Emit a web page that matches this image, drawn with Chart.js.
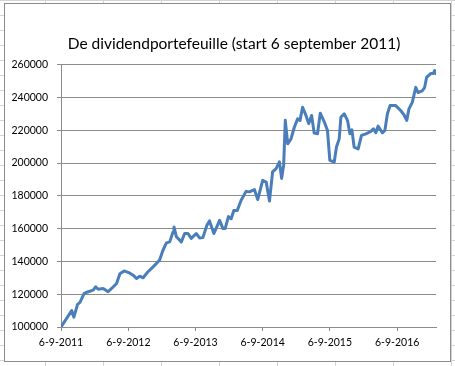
<!DOCTYPE html>
<html>
<head>
<meta charset="utf-8">
<script src="https://cdn.jsdelivr.net/npm/chart.js@4.4.1/dist/chart.umd.min.js"></script>
<style>
  html, body { margin: 0; padding: 0; }
  body {
    width: 455px; height: 366px; overflow: hidden; position: relative;
    background-color: #fff;
    background-image:
      linear-gradient(to right, #d4d4d4 1px, transparent 1px),
      linear-gradient(to bottom, #d4d4d4 1px, transparent 1px);
    background-size: 58px 15px, 58px 15px;
    background-position: 45px 0, 0 0;
  }
  #frame {
    position: absolute; left: 4px; top: 3px;
    width: 445px; height: 357px;
    border: 1px solid #8c8c8c; background: #fff;
  }
  canvas { display: block; }
</style>
</head>
<body>
<div id="frame"><canvas id="portfolioChart" width="445" height="357"></canvas></div>
<script>
// Waarden (datum, waarde portefeuille)
const dates = [
  '2011-09-06', '2011-11-03', '2011-11-15', '2011-12-05', '2011-12-18', '2012-01-10', '2012-02-01', '2012-02-28',
  '2012-03-12', '2012-03-26', '2012-04-22', '2012-05-19', '2012-06-07', '2012-07-04', '2012-07-22', '2012-08-14',
  '2012-09-08', '2012-10-02', '2012-10-20', '2012-11-07', '2012-11-25', '2012-12-22', '2013-01-10', '2013-02-06',
  '2013-02-23', '2013-03-13', '2013-04-01', '2013-04-19', '2013-05-07', '2013-05-12', '2013-05-25', '2013-06-21',
  '2013-07-09', '2013-07-27', '2013-08-14', '2013-09-01', '2013-09-10', '2013-09-28', '2013-10-16', '2013-11-07',
  '2013-11-21', '2013-12-15', '2014-01-15', '2014-02-02', '2014-02-14', '2014-03-04', '2014-03-19', '2014-04-02',
  '2014-04-21', '2014-05-12', '2014-06-08', '2014-06-26', '2014-07-23', '2014-08-10', '2014-09-06', '2014-09-25',
  '2014-10-13', '2014-10-30', '2014-11-18', '2014-12-06', '2014-12-18', '2014-12-29', '2015-01-07', '2015-01-20',
  '2015-02-07', '2015-02-25', '2015-03-15', '2015-03-28', '2015-04-11', '2015-04-26', '2015-05-14', '2015-05-30',
  '2015-06-13', '2015-07-01', '2015-07-16', '2015-08-07', '2015-08-24', '2015-09-06', '2015-09-30', '2015-10-12',
  '2015-10-27', '2015-11-05', '2015-11-23', '2015-12-11', '2015-12-24', '2016-01-04', '2016-01-16', '2016-02-07',
  '2016-02-25', '2016-03-20', '2016-04-16', '2016-04-30', '2016-05-13', '2016-05-25', '2016-06-18', '2016-07-01',
  '2016-07-15', '2016-07-29', '2016-08-29', '2016-09-25', '2016-10-13', '2016-10-28', '2016-11-09', '2016-11-27',
  '2016-12-16', '2016-12-28', '2017-01-20', '2017-02-02', '2017-02-13', '2017-03-07', '2017-03-21', '2017-03-29',
  '2017-04-05'
];
const values = [
  100000, 110000, 106000, 113800, 115000, 120500, 121500, 122500,
  124500, 123000, 123500, 121500, 123500, 126500, 132500, 134200,
  133200, 131600, 129600, 131000, 130000, 133700, 135700, 138800,
  140800, 146800, 151300, 151900, 158000, 161000, 155000, 151900,
  157000, 157000, 154000, 156000, 157000, 154300, 154500, 162000,
  164700, 157000, 165000, 160000, 160000, 167300, 166000, 171000,
  171000, 177300, 182700, 182400, 183800, 177700, 189400, 188400,
  176800, 194600, 196600, 200700, 190600, 198700, 226000, 211700,
  214700, 221800, 226900, 226000, 234000, 230000, 224000, 229000,
  218200, 217800, 230400, 225000, 220000, 201600, 200600, 209700,
  214700, 227900, 230000, 226000, 217800, 220200, 209700, 208600,
  216800, 217800, 219200, 220800, 218400, 222500, 218400, 219800,
  230000, 235000, 235000, 232000, 229300, 226000, 233000, 237000,
  246100, 243000, 244000, 246000, 252200, 254500, 254500, 256400,
  254400
];
const xTickLabels = ['6-9-2011', '6-9-2012', '6-9-2013', '6-9-2014', '6-9-2015', '6-9-2016'];
const yTicks = [100000, 120000, 140000, 160000, 180000, 200000, 220000, 240000, 260000];

const DAY = 86400000;
const start = Date.parse(dates[0]);
const toDay = s => (Date.parse(s) - start) / DAY;
// '6-9-2012' -> dag-nummer sinds de start
const labelDay = l => {
  const p = l.split('-');
  return (Date.UTC(+p[2], +p[1] - 1, +p[0]) - start) / DAY;
};
const tickDays = xTickLabels.map(labelDay);
const points = dates.map((d, i) => ({ x: toDay(d), y: values[i] }));

const gray = '#8c8c8c';
const font = 'Lato';

// titel staat in Excel iets rechts van het midden
const shiftTitle = {
  id: 'shiftTitle',
  afterLayout(chart) {
    if (chart.titleBlock) chart.titleBlock.left += 27;
  }
};

new Chart(document.getElementById('portfolioChart'), {
  type: 'line',
  data: {
    datasets: [{
      data: points,
      borderColor: '#4a7ebb',
      borderWidth: 3,
      pointRadius: 0,
      tension: 0,
      borderJoinStyle: 'round',
      borderCapStyle: 'round'
    }]
  },
  plugins: [shiftTitle],
  options: {
    responsive: false,
    animation: false,
    layout: { padding: { left: 0, right: 14, top: 0, bottom: 0 } },
    plugins: {
      legend: { display: false },
      tooltip: { enabled: false },
      title: {
        display: true,
        text: 'De dividendportefeuille (start 6 september 2011)',
        color: '#000',
        font: { family: font, size: 15.5, weight: 'normal' },
        padding: { top: 31, bottom: 11 }
      }
    },
    scales: {
      x: {
        type: 'linear',
        min: 0,
        max: points[points.length - 1].x,
        afterBuildTicks: s => { s.ticks = tickDays.map(v => ({ value: v })); },
        afterFit: s => { s.height = 34; },
        grid: { drawOnChartArea: false, drawTicks: true, tickLength: 4, color: gray },
        border: { display: true, color: gray },
        ticks: {
          autoSkip: false, maxRotation: 0, padding: 5,
          color: '#000', font: { family: font, size: 10.5 },
          callback: (v, i) => xTickLabels[i]
        }
      },
      y: {
        min: yTicks[0],
        max: yTicks[yTicks.length - 1],
        afterBuildTicks: s => { s.ticks = yTicks.map(v => ({ value: v })); },
        afterFit: s => { s.width = 56; },
        grid: { color: gray, tickLength: 4, drawTicks: true },
        border: { display: true, color: gray },
        ticks: {
          padding: 9, color: '#000', font: { family: font, size: 10.5 },
          callback: v => String(v)
        }
      }
    }
  }
});
</script>
</body>
</html>
